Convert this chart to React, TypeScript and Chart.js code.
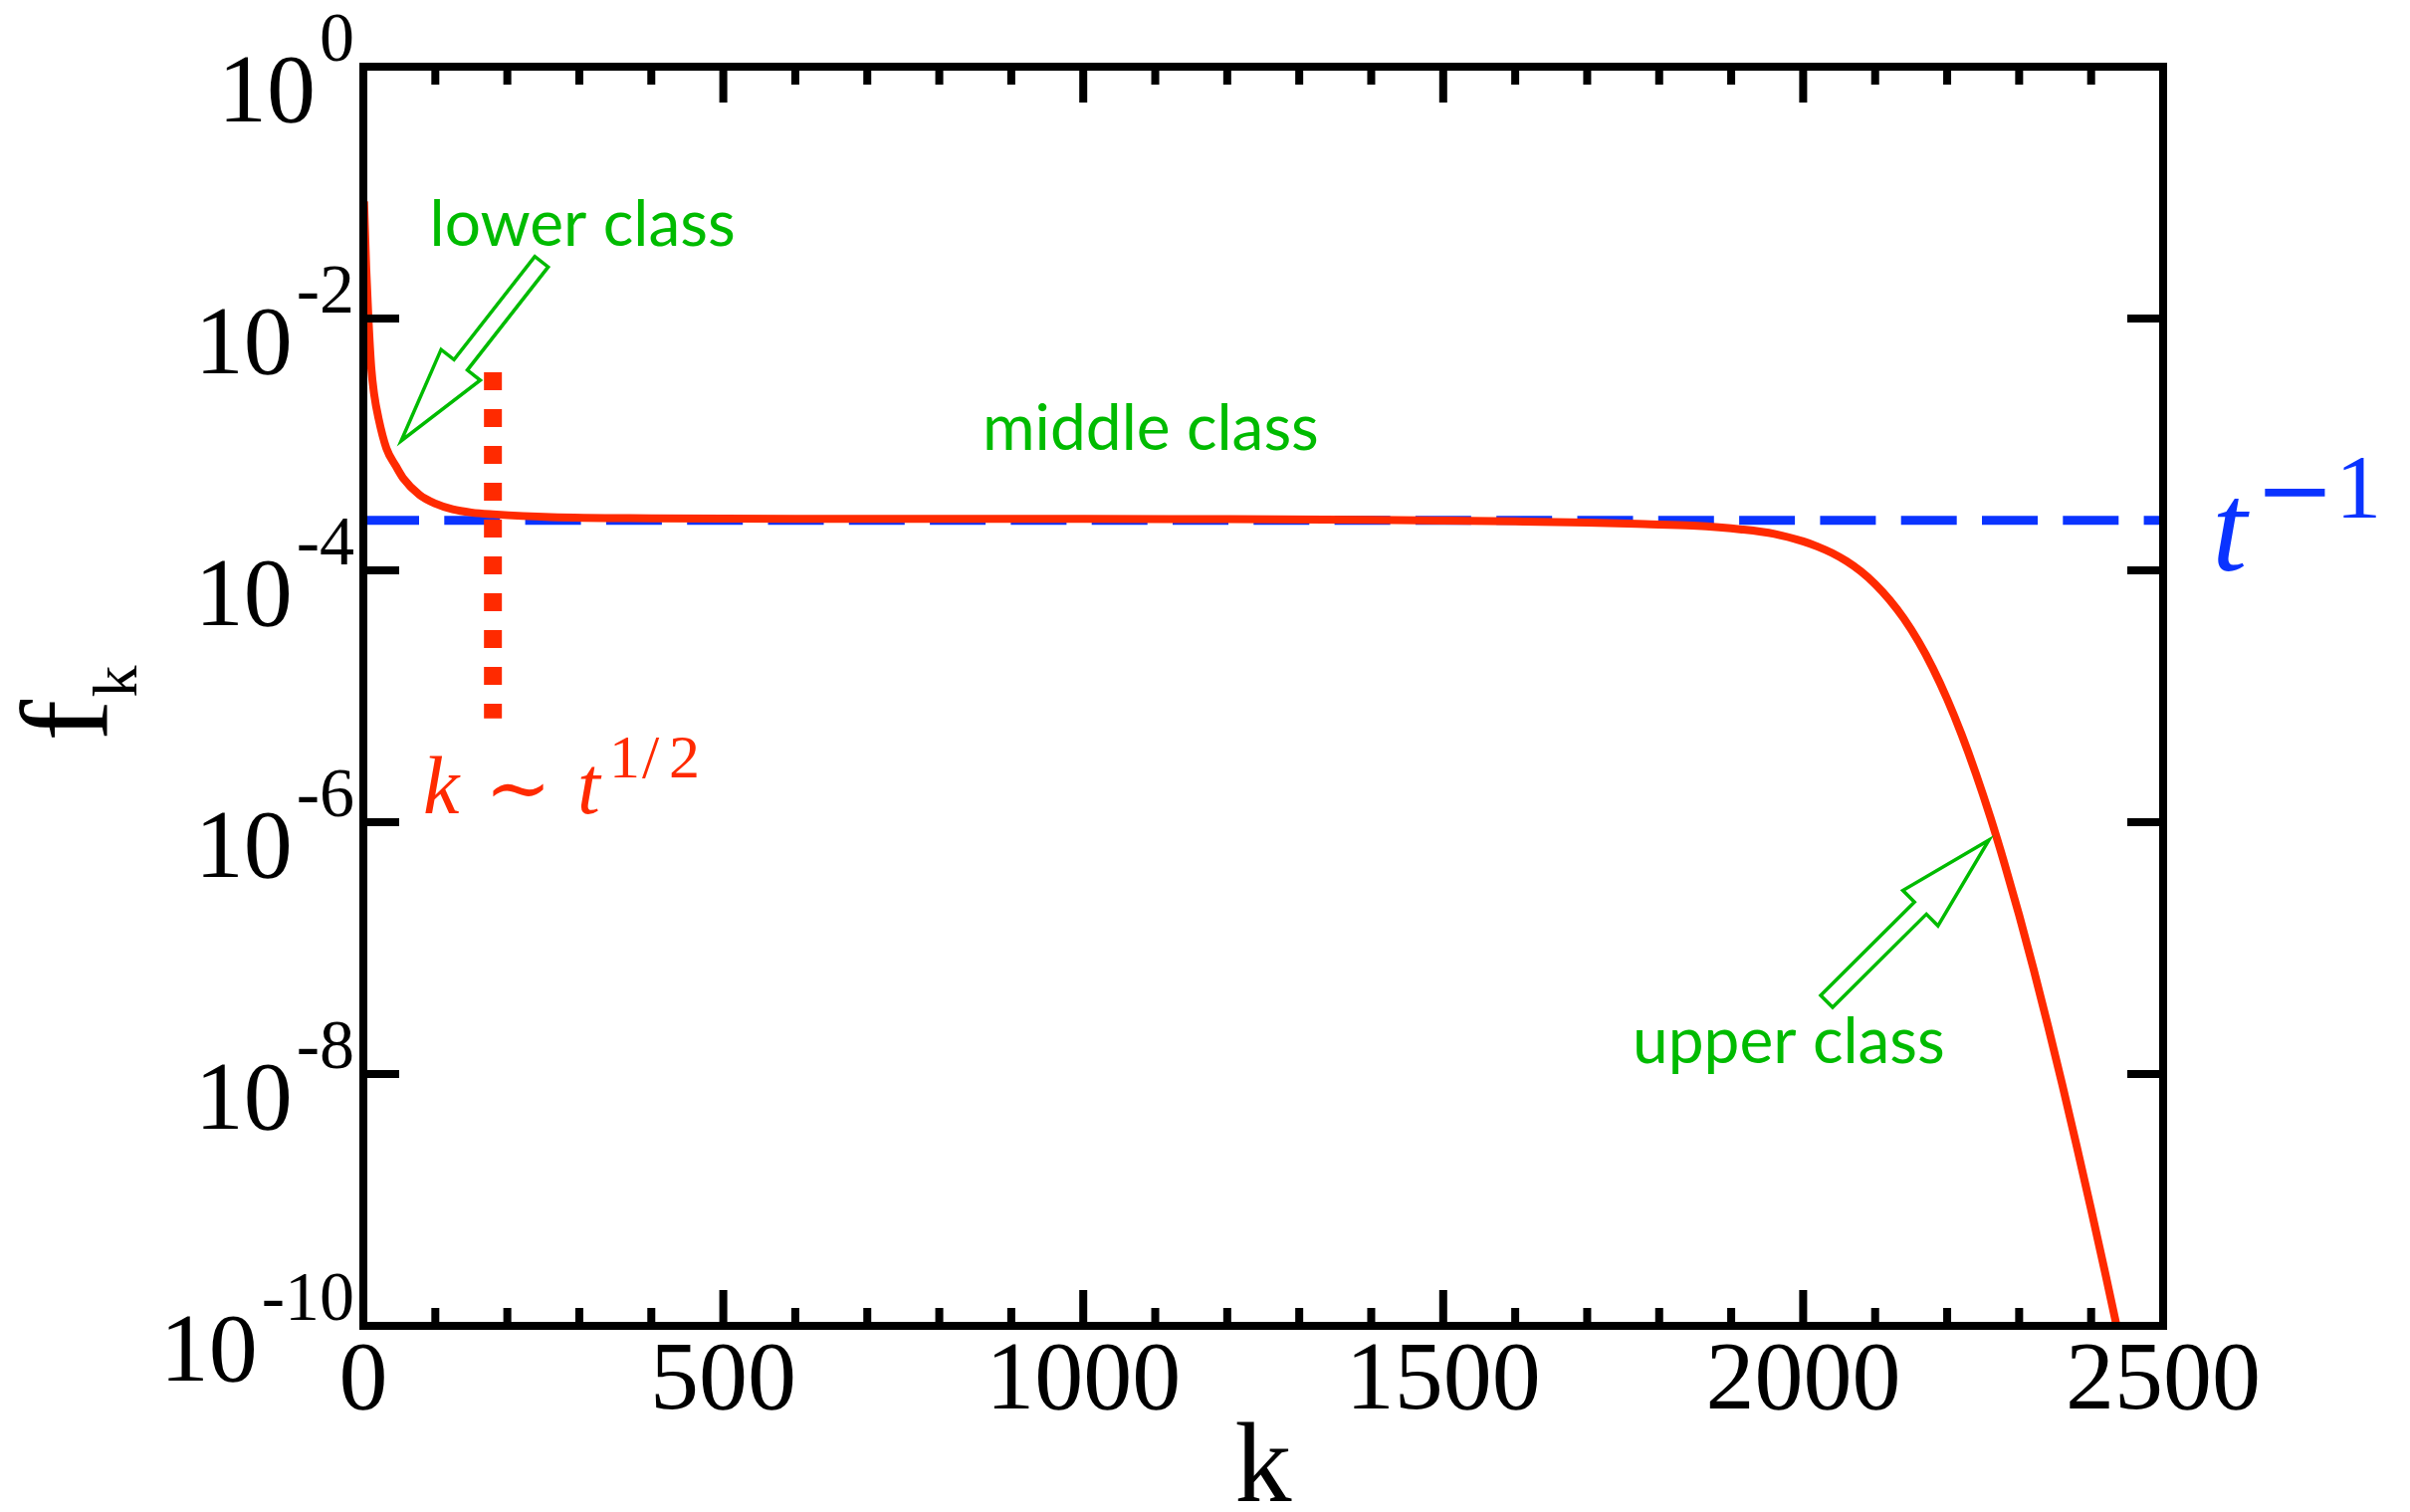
import React, { useEffect, useRef } from 'react';
import { Chart, registerables } from 'chart.js';

Chart.register(...registerables);

// ---------------- data ----------------
const K_VALUES = [
  1, 4, 7, 11, 15, 21, 32, 45, 55, 78, 100, 124, 150, 180, 260, 400, 600, 800, 1000, 1200,
  1400, 1600, 1700, 1780, 1846, 1915, 1960, 2000, 2020, 2040, 2060, 2080, 2100, 2120, 2140,
  2160, 2180, 2200, 2220, 2240, 2260, 2280, 2300, 2320, 2340, 2360, 2380, 2400, 2420, 2440, 2455,
];
const F_VALUES = [
  8.51e-2, 2.51e-2, 1.02e-2, 4.07e-3, 2.51e-3, 1.62e-3, 9.33e-4, 6.76e-4, 5.43e-4, 3.98e-4,
  3.39e-4, 3.05e-4, 2.88e-4, 2.79e-4, 2.65e-4, 2.59e-4, 2.57e-4, 2.57e-4, 2.56e-4, 2.55e-4,
  2.52e-4, 2.45e-4, 2.40e-4, 2.33e-4, 2.265e-4, 2.113e-4, 1.95e-4, 1.698e-4, 1.545e-4, 1.374e-4,
  1.184e-4, 9.82e-5, 7.77e-5, 5.83e-5, 4.13e-5, 2.73e-5, 1.677e-5, 9.51e-6, 4.98e-6, 2.42e-6,
  1.094e-6, 4.61e-7, 1.826e-7, 6.82e-8, 2.42e-8, 8.2e-9, 2.67e-9, 8.4e-10, 2.56e-10, 7.55e-11,
  2.95e-11,
];
const T_INVERSE = 2.5e-4;
const REF_K_RANGE = [0, 2500];
const SQRT_T_K = 180;
const SQRT_T_F_RANGE = [3.74e-3, 6.68e-6];

const X_MIN = 0;
const X_MAX = 2500;
const X_STEP = 100;
const X_LABEL_STEP = 500;
const Y_MIN = 1e-10;
const Y_MAX = 1;
const Y_TICK_EXPONENTS = ['0', '-2', '-4', '-6', '-8', '-10'];

// annotations (data coordinates)
const CLASS_LABELS = ['lower class', 'middle class', 'upper class'];
const CLASS_LABEL_K = [92, 860, 1763];
const CLASS_LABEL_F = [3.78e-2, 9.06e-4, 1.22e-8];
const ARROW_TAIL_K = [247.5, 2032.6];
const ARROW_TAIL_F = [2.825e-2, 3.78e-8];
const ARROW_TIP_K = [52.5, 2258];
const ARROW_TIP_F = [1.067e-3, 7.21e-7];
const SQRT_LABEL_K = 83;
const SQRT_LABEL_F = 1.178e-6;
const TINV_LABEL_K = 2568;
const TINV_LABEL_F = 1e-4;

// ---------------- styles ----------------
const SERIF = "'Liberation Serif', 'Times New Roman', serif";
const RED = '#ff2a00';
const BLUE = '#0a33ff';
const GREEN = '#00bb00';

function drawArrow(ctx: CanvasRenderingContext2D, tx: number, ty: number, px: number, py: number) {
  const dx = px - tx;
  const dy = py - ty;
  const L = Math.hypot(dx, dy);
  const ux = dx / L;
  const uy = dy / L;
  const nx = -uy;
  const ny = ux;
  const H = 97;
  const w = 8.5;
  const W = 25;
  const bx = px - ux * H;
  const by = py - uy * H;
  ctx.beginPath();
  ctx.moveTo(tx + nx * w, ty + ny * w);
  ctx.lineTo(bx + nx * w, by + ny * w);
  ctx.lineTo(bx + nx * W, by + ny * W);
  ctx.lineTo(px, py);
  ctx.lineTo(bx - nx * W, by - ny * W);
  ctx.lineTo(bx - nx * w, by - ny * w);
  ctx.lineTo(tx - nx * w, ty - ny * w);
  ctx.closePath();
  ctx.stroke();
}

const decorPlugin = {
  id: 'decor',
  afterDraw(chart: any) {
    const { ctx, chartArea: a } = chart;
    const xs = chart.scales.x;
    const ys = chart.scales.y;
    ctx.save();

    // inward tick marks
    ctx.strokeStyle = '#000';
    ctx.lineWidth = 8;
    ctx.lineCap = 'butt';
    for (const t of xs.ticks) {
      const v = Number(t.value);
      if (v <= X_MIN || v >= X_MAX) continue;
      const px = xs.getPixelForValue(v);
      const len = v % X_LABEL_STEP === 0 ? 36 : 18;
      ctx.beginPath();
      ctx.moveTo(px, a.bottom);
      ctx.lineTo(px, a.bottom - len);
      ctx.moveTo(px, a.top);
      ctx.lineTo(px, a.top + len);
      ctx.stroke();
    }
    for (const e of Y_TICK_EXPONENTS) {
      const v = Math.pow(10, Number(e));
      if (v <= Y_MIN * 1.001 || v >= Y_MAX * 0.999) continue;
      const py = ys.getPixelForValue(v);
      ctx.beginPath();
      ctx.moveTo(a.left, py);
      ctx.lineTo(a.left + 36, py);
      ctx.moveTo(a.right, py);
      ctx.lineTo(a.right - 36, py);
      ctx.stroke();
    }

    // frame
    ctx.lineJoin = 'miter';
    ctx.strokeRect(a.left, a.top, a.right - a.left, a.bottom - a.top);

    // y tick labels 10^e
    ctx.fillStyle = '#000';
    ctx.textAlign = 'left';
    ctx.textBaseline = 'alphabetic';
    for (const e of Y_TICK_EXPONENTS) {
      const py = ys.getPixelForValue(Math.pow(10, Number(e)));
      ctx.font = `70px ${SERIF}`;
      const ws = ctx.measureText(e).width;
      ctx.font = `98px ${SERIF}`;
      const wb = ctx.measureText('10').width;
      const supX = a.left - 9 - ws;
      const baseX = supX - 4 - wb;
      ctx.fillText('10', baseX, py + 55);
      ctx.font = `70px ${SERIF}`;
      ctx.fillText(e, supX, py - 6);
    }

    // y axis title f_k (rotated)
    const cy = (a.top + a.bottom) / 2;
    ctx.save();
    ctx.translate(107, cy + 45);
    ctx.rotate(-Math.PI / 2);
    ctx.font = `125px ${SERIF}`;
    ctx.fillText('f', 0, 0);
    ctx.font = `64px ${SERIF}`;
    ctx.fillText('k', 44, 30);
    ctx.restore();

    // green class labels
    ctx.fillStyle = GREEN;
    ctx.font = `64px Lato, 'Open Sans', sans-serif`;
    CLASS_LABELS.forEach((txt, i) => {
      ctx.fillText(txt, xs.getPixelForValue(CLASS_LABEL_K[i]), ys.getPixelForValue(CLASS_LABEL_F[i]));
    });

    // green hollow arrows
    ctx.strokeStyle = GREEN;
    ctx.lineWidth = 3.5;
    ctx.lineJoin = 'miter';
    ARROW_TAIL_K.forEach((k, i) => {
      drawArrow(
        ctx,
        xs.getPixelForValue(k),
        ys.getPixelForValue(ARROW_TAIL_F[i]),
        xs.getPixelForValue(ARROW_TIP_K[i]),
        ys.getPixelForValue(ARROW_TIP_F[i])
      );
    });

    // k ~ t^{1/2}
    {
      const x0 = xs.getPixelForValue(SQRT_LABEL_K);
      const y0 = ys.getPixelForValue(SQRT_LABEL_F);
      ctx.fillStyle = RED;
      ctx.font = `italic 82px ${SERIF}`;
      ctx.fillText('k', x0, y0);
      ctx.font = `80px 'DejaVu Serif', serif`;
      ctx.fillText('\u223C', x0 + 62, y0 + 2);
      ctx.font = `italic 82px ${SERIF}`;
      ctx.fillText('t', x0 + 155, y0);
      ctx.font = `62px ${SERIF}`;
      ctx.fillText('1', x0 + 187, y0 - 36);
      ctx.fillText('/', x0 + 220, y0 - 36);
      ctx.fillText('2', x0 + 247, y0 - 36);
    }

    // t^{-1}
    {
      const x0 = xs.getPixelForValue(TINV_LABEL_K);
      const y0 = ys.getPixelForValue(TINV_LABEL_F);
      ctx.fillStyle = BLUE;
      ctx.font = `italic 126px ${SERIF}`;
      ctx.fillText('t', x0, y0);
      ctx.font = `96px 'DejaVu Serif', serif`;
      ctx.fillText('\u2212', x0 + 43, y0 - 48);
      ctx.font = `92px ${SERIF}`;
      ctx.fillText('1', x0 + 124, y0 - 53);
    }

    ctx.restore();
  },
};

export default function App() {
  const ref = useRef<HTMLCanvasElement | null>(null);

  useEffect(() => {
    document.body.style.margin = '0';
    document.body.style.overflow = 'hidden';
    const canvas = ref.current;
    if (!canvas) return;
    let alive = true;
    const chart = new Chart(canvas, {
      type: 'line',
      data: {
        datasets: [
          {
            label: 'f_k',
            data: K_VALUES.map((k, i) => ({ x: k, y: F_VALUES[i] })),
            borderColor: RED,
            backgroundColor: RED,
            borderWidth: 8,
            pointRadius: 0,
            cubicInterpolationMode: 'monotone',
            fill: false,
          },
          {
            label: 'k ~ t^1/2',
            data: SQRT_T_F_RANGE.map((f) => ({ x: SQRT_T_K, y: f })),
            borderColor: RED,
            backgroundColor: RED,
            borderWidth: 18,
            borderDash: [18, 19],
            borderCapStyle: 'butt',
            pointRadius: 0,
            fill: false,
          },
          {
            label: 't^-1',
            data: REF_K_RANGE.map((k) => ({ x: k, y: T_INVERSE })),
            borderColor: BLUE,
            backgroundColor: BLUE,
            borderWidth: 9,
            borderDash: [56, 25.3],
            borderCapStyle: 'butt',
            pointRadius: 0,
            fill: false,
          },
        ],
      },
      options: {
        responsive: false,
        animation: false,
        devicePixelRatio: 1,
        events: [],
        layout: { padding: { left: 365, right: 248, top: 67, bottom: 0 }, autoPadding: false },
        plugins: {
          legend: { display: false },
          tooltip: { enabled: false },
          title: { display: false },
        },
        scales: {
          x: {
            type: 'linear',
            position: 'bottom',
            min: X_MIN,
            max: X_MAX,
            grid: { display: false, drawTicks: false },
            border: { display: false },
            ticks: {
              stepSize: X_STEP,
              autoSkip: false,
              maxRotation: 0,
              minRotation: 0,
              padding: 8,
              color: '#000',
              font: { family: SERIF, size: 98, lineHeight: 1 },
              callback: (v: any) => (Number(v) % X_LABEL_STEP === 0 ? String(v) : ''),
            },
            title: {
              display: true,
              text: 'k',
              color: '#000',
              font: { family: SERIF, size: 114, lineHeight: 0.5 },
              padding: { top: 4, bottom: 12 },
            },
          },
          y: {
            type: 'logarithmic',
            position: 'left',
            min: Y_MIN,
            max: Y_MAX,
            grid: { display: false, drawTicks: false },
            border: { display: false },
            ticks: { display: false },
            title: { display: false },
          },
        },
      },
      plugins: [decorPlugin],
    } as any);
    if ((document as any).fonts && (document as any).fonts.ready) {
      (document as any).fonts.ready.then(() => {
        if (alive) chart.update('none');
      });
    }
    return () => {
      alive = false;
      chart.destroy();
    };
  }, []);

  return (
    <div style={{ width: 2421, height: 1519, position: 'relative' }}>
      <canvas ref={ref} width={2421} height={1519} style={{ display: 'block', width: 2421, height: 1519 }} />
    </div>
  );
}
